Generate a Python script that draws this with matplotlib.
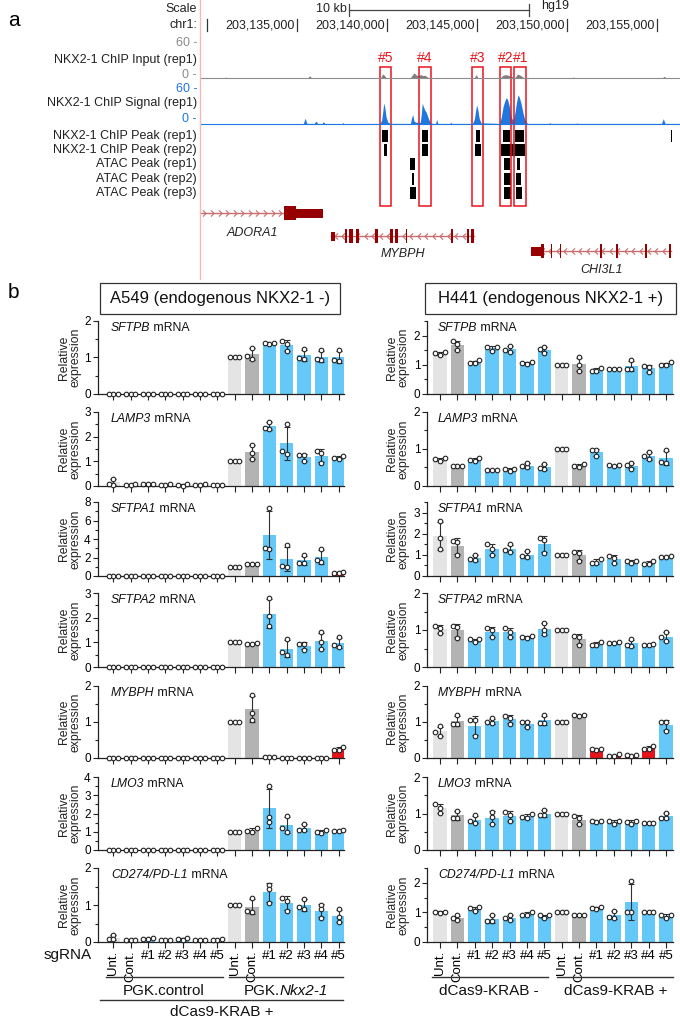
import numpy as np
import matplotlib
matplotlib.use('Agg')
import matplotlib.pyplot as plt
from matplotlib.patches import Rectangle
from matplotlib.path import Path

plt.rcParams['font.family'] = ['Liberation Sans', 'DejaVu Sans']

W, H = 680, 1018

# ---------------- panel a data (positions in kb after 203,000,000) ----------------
KB_LEFT, KB_RIGHT = 129.61, 156.28
CHR_TICKS = [130, 135, 140, 145, 150, 155]
CHR_LABELS = ['', '203,135,000', '203,140,000', '203,145,000', '203,150,000', '203,155,000']
SCALE_BAR_KB = (137.9, 147.9)

inp_kb = [129.6, 131.0, 131.05, 131.1, 135.6, 135.7, 135.8, 139.65, 139.75, 139.85, 139.95,
          141.3, 141.4, 141.5, 141.6, 141.7, 141.9, 142.0, 142.1, 142.3, 144.85, 144.95, 145.05,
          146.3, 146.45, 146.6, 146.8, 147.1, 147.25, 147.4, 147.6, 150.3, 150.35, 150.4,
          155.3, 155.4, 155.5, 156.3]
inp_val = [0.5, 0.5, 2.0, 0.5, 0.5, 4.0, 0.5, 0.5, 7.0, 5.0, 0.5,
           0.5, 5.0, 9.0, 6.0, 4.0, 6.0, 4.0, 5.0, 0.5, 0.5, 6.0, 0.5,
           0.5, 5.0, 6.0, 4.0, 0.5, 7.0, 5.0, 0.5, 0.5, 2.0, 0.5,
           0.5, 3.0, 0.5, 0.5]

sig_kb = [129.6, 135.35, 135.45, 135.55, 135.95, 136.05, 136.15, 136.4, 136.45, 136.55,
          137.5, 137.55, 137.6, 139.6, 139.7, 139.76, 139.82, 139.88, 139.95, 140.05, 140.2,
          141.3, 141.38, 141.43, 141.5, 141.6, 141.85, 141.9, 141.96, 142.02, 142.1, 142.18,
          142.25, 142.32, 142.4, 142.5, 142.7, 142.76, 142.82, 143.5, 143.55, 143.6,
          144.75, 144.85, 144.92, 144.98, 145.05, 145.12, 145.22, 146.25, 146.35, 146.45,
          146.55, 146.62, 146.7, 146.8, 146.9, 147.0, 147.1, 147.2, 147.28, 147.35, 147.45,
          147.55, 147.65, 147.8, 149.0, 149.05, 149.1, 150.5, 150.55, 150.6, 155.25, 155.35,
          155.45, 156.3]
sig_val = [0.8, 0.8, 10, 1, 1, 5, 1, 1, 4, 1,
           0.8, 2.5, 0.8, 1, 6, 20, 36, 28, 12, 3, 1,
           1, 12, 16, 5, 3, 3, 15, 36, 30, 24, 20,
           14, 8, 3, 1, 1, 8, 1, 1, 3, 1,
           1, 8, 22, 33, 24, 10, 2, 1, 12, 30,
           40, 45, 42, 30, 12, 6, 18, 38, 50, 46, 35,
           20, 8, 1, 1, 2.5, 1, 1, 2, 1, 1, 9,
           1, 1]

PEAK_ROWS = ['NKX2-1 ChIP Peak (rep1)', 'NKX2-1 ChIP Peak (rep2)',
             'ATAC Peak (rep1)', 'ATAC Peak (rep2)', 'ATAC Peak (rep3)']
chip_rep1 = [(139.75, 140.04), (141.93, 142.28), (142.81, 142.86), (144.94, 145.18),
             (146.44, 146.83), (147.13, 147.61), (155.31, 155.36), (155.77, 155.82)]
chip_rep2 = [(139.82, 140.02), (141.93, 142.28), (144.89, 145.21), (146.33, 147.66)]
atac_rep1 = [(141.30, 141.54), (146.52, 146.81), (147.20, 147.39)]
atac_rep2 = [(141.40, 141.49), (146.52, 146.89), (147.14, 147.42)]
atac_rep3 = [(141.30, 141.60), (146.52, 146.89), (147.17, 147.51)]

SG_BOXES = ['#5', '#4', '#3', '#2', '#1']
sg_box_kb = [(139.61, 140.21), (141.79, 142.45), (144.75, 145.33), (146.30, 146.91), (147.08, 147.73)]

# genes: line extent, UTR block, exons, strand
ADORA1 = dict(span=(129.61, 134.27), utr=(134.94, 136.45), exons=[(134.27, 134.94)], strand='+')
MYBPH = dict(span=(136.89, 144.82), utr=(136.89, 137.11),
             exons=[(137.67, 137.75), (137.90, 138.10), (138.27, 138.44), (139.36, 139.51),
                    (140.17, 140.33), (140.45, 140.63), (141.05, 141.10), (143.56, 143.65),
                    (144.45, 144.55), (144.65, 144.82)], strand='-')
CHI3L1 = dict(span=(147.98, 155.79), utr=(147.98, 148.56),
              exons=[(148.56, 148.70), (149.11, 149.18), (149.60, 149.67), (151.85, 151.95),
                     (152.75, 152.85), (154.35, 154.45), (155.67, 155.79)], strand='-')

# ---------------- panel b data: three replicates per bar ----------------
SGRNA = ['Unt.', 'Cont.', '#1', '#2', '#3', '#4', '#5']
GENES = ['SFTPB', 'LAMP3', 'SFTPA1', 'SFTPA2', 'MYBPH', 'LMO3', 'CD274/PD-L1']
A549_YMAX = [2, 3, 8, 3, 2, 4, 2]
A549_STEP = [1, 1, 2, 1, 1, 1, 1]
H441_YMAX = [2.5, 2, 3.5, 2, 2, 2, 2.5]
H441_STEP = [1, 1, 1, 1, 1, 1, 1]

Z = (0.0, 0.0, 0.0)
A549_SFTPB = [Z, Z, Z, Z, Z, Z, Z,
              (1.0, 1.0, 1.0), (0.95, 1.27, 1.05), (1.36, 1.40, 1.40), (1.45, 1.17, 1.38),
              (0.98, 1.22, 0.97), (1.20, 0.93, 0.95), (1.20, 0.90, 0.92)]
A549_LAMP3 = [(0.05, 0.28, 0.10), (0.05, 0.09, 0.05), (0.07, 0.10, 0.10), (0.03, 0.10, 0.04),
              (0.02, 0.08, 0.06), (0.06, 0.07, 0.06), (0.04, 0.06, 0.05),
              (1.0, 1.0, 1.0), (1.10, 1.65, 1.35), (2.30, 2.60, 2.35), (1.30, 2.50, 1.40),
              (1.25, 1.00, 1.25), (1.40, 0.95, 1.35), (1.22, 1.10, 1.15)]
A549_SFTPA1 = [Z, Z, Z, Z, Z, Z, Z,
               (1.0, 1.0, 1.0), (1.30, 1.35, 1.30), (2.90, 7.40, 3.00), (1.00, 3.35, 1.10),
               (1.40, 2.25, 1.45), (1.50, 2.90, 1.75), (0.30, 0.45, 0.30)]
A549_SFTPA2 = [Z, Z, Z, Z, Z, Z, Z,
               (1.0, 1.0, 1.0), (0.93, 0.97, 0.95), (1.65, 2.80, 2.05), (0.50, 1.15, 0.60),
               (0.95, 0.70, 0.95), (1.40, 0.75, 1.00), (1.20, 0.80, 0.90)]
A549_MYBPH = [Z, Z, Z, Z, Z, Z, Z,
              (1.0, 1.0, 1.0), (1.75, 1.25, 1.05), (0.02, 0.02, 0.02), (0.01, 0.01, 0.01),
              (0.01, 0.01, 0.01), (0.01, 0.01, 0.01), (0.30, 0.22, 0.22)]
A549_LMO3 = [Z, Z, Z, Z, Z, Z, Z,
             (1.0, 1.0, 1.0), (1.20, 1.05, 1.00), (1.55, 3.50, 1.80), (1.85, 1.00, 1.20),
             (1.45, 1.10, 1.12), (0.95, 1.12, 1.00), (1.05, 1.06, 1.07)]
A549_CD274 = [(0.08, 0.20, 0.07), (0.05, 0.06, 0.05), (0.07, 0.10, 0.09), (0.05, 0.06, 0.05),
              (0.06, 0.12, 0.09), (0.05, 0.06, 0.05), (0.06, 0.07, 0.06),
              (1.0, 1.0, 1.0), (0.82, 1.18, 0.85), (1.55, 1.42, 1.05), (1.20, 0.85, 1.10),
              (1.17, 0.95, 0.88), (1.00, 0.65, 0.88), (0.88, 0.55, 0.68)]

H441_SFTPB = [(1.35, 1.45, 1.40), (1.50, 1.80, 1.70), (1.15, 1.05, 1.05), (1.60, 1.48, 1.62),
              (1.45, 1.65, 1.50), (1.03, 1.10, 1.05), (1.60, 1.55, 1.42),
              (1.0, 1.0, 1.0), (0.80, 1.25, 1.00), (0.90, 0.80, 0.78), (0.86, 0.87, 0.87),
              (0.85, 1.17, 0.85), (0.95, 0.75, 0.92), (0.98, 1.08, 1.00)]
H441_LAMP3 = [(0.75, 0.68, 0.73), (0.53, 0.53, 0.54), (0.68, 0.76, 0.70), (0.42, 0.44, 0.42),
              (0.40, 0.47, 0.45), (0.50, 0.62, 0.53), (0.45, 0.60, 0.48),
              (1.0, 1.0, 1.0), (0.55, 0.60, 0.50), (0.97, 0.80, 0.97), (0.55, 0.57, 0.57),
              (0.62, 0.47, 0.57), (0.72, 0.92, 0.80), (0.65, 0.97, 0.63)]
H441_SFTPA1 = [(1.80, 2.60, 1.30), (1.65, 1.00, 1.60), (0.75, 1.00, 0.80), (1.50, 1.30, 1.00),
               (1.25, 1.50, 1.15), (0.95, 1.18, 0.90), (1.80, 1.10, 1.70),
               (1.0, 1.0, 1.0), (1.15, 0.70, 1.10), (0.60, 0.80, 0.60), (0.95, 0.60, 0.85),
               (0.72, 0.60, 0.72), (0.58, 0.70, 0.58), (0.92, 0.95, 0.92)]
H441_SFTPA2 = [(0.92, 1.12, 1.05), (1.10, 0.78, 1.08), (0.75, 0.68, 0.75), (1.05, 0.80, 1.00),
               (0.95, 1.05, 0.80), (0.85, 0.80, 0.78), (0.88, 1.20, 1.00),
               (1.0, 1.0, 1.0), (0.85, 0.60, 0.80), (0.60, 0.67, 0.60), (0.65, 0.68, 0.66),
               (0.58, 0.75, 0.60), (0.60, 0.61, 0.60), (0.70, 0.95, 0.80)]
H441_MYBPH = [(0.62, 0.88, 0.72), (0.95, 1.20, 0.95), (1.05, 0.60, 1.05), (0.97, 1.10, 1.00),
              (1.10, 1.18, 0.95), (1.00, 0.85, 1.00), (0.97, 1.20, 0.97),
              (1.0, 1.0, 1.0), (1.18, 1.20, 1.20), (0.22, 0.26, 0.24), (0.05, 0.10, 0.06),
              (0.06, 0.07, 0.07), (0.25, 0.33, 0.25), (1.00, 0.75, 1.00)]
H441_LMO3 = [(1.02, 1.25, 1.15), (0.88, 1.08, 0.88), (0.80, 0.95, 0.75), (0.70, 1.05, 0.90),
             (1.05, 0.80, 0.95), (0.90, 1.00, 0.88), (0.95, 1.10, 0.95),
             (1.0, 1.0, 1.0), (0.92, 0.70, 0.88), (0.78, 0.80, 0.80), (0.80, 0.72, 0.80),
             (0.78, 0.72, 0.80), (0.73, 0.75, 0.73), (0.88, 1.02, 0.88)]
H441_CD274 = [(0.98, 1.03, 1.02), (0.90, 0.75, 0.80), (1.18, 1.05, 1.15), (0.70, 0.92, 0.70),
              (0.75, 0.92, 0.80), (0.92, 1.02, 0.92), (0.90, 0.80, 0.90),
              (1.0, 1.0, 1.0), (0.92, 0.92, 0.92), (1.13, 1.18, 1.15), (0.80, 1.05, 0.85),
              (1.00, 2.05, 1.00), (1.00, 1.01, 1.00), (0.90, 0.80, 0.92)]

A549_DATA = [A549_SFTPB, A549_LAMP3, A549_SFTPA1, A549_SFTPA2, A549_MYBPH, A549_LMO3, A549_CD274]
H441_DATA = [H441_SFTPB, H441_LAMP3, H441_SFTPA1, H441_SFTPA2, H441_MYBPH, H441_LMO3, H441_CD274]
# bars shown in red (knock-down hits)
RED_BARS = {('A549', 'SFTPA1'): [13], ('A549', 'MYBPH'): [13], ('H441', 'MYBPH'): [9, 10, 11, 12]}

# ---------------- figure ----------------
fig = plt.figure(figsize=(W / 100, H / 100), dpi=100)


def rect(x0, y0, x1, y1):
    return [x0 / W, 1 - y1 / H, (x1 - x0) / W, (y1 - y0) / H]


# ---- panel a ----
ax = fig.add_axes(rect(200, 0, 680, 280))
ax.set_xlim(KB_LEFT, KB_RIGHT)
ax.set_ylim(280, 0)
ax.axis('off')

RED = '#e8141c'
GRAY_T = '#8a8a8a'
BLUE_T = '#1f78e0'

# chr1 ruler
for kb in CHR_TICKS:
    ax.plot([kb, kb], [19, 31], color='#333333', lw=0.9)
# scale bar
ax.plot(SCALE_BAR_KB, [10, 10], color='#444444', lw=0.9)
for kb in SCALE_BAR_KB:
    ax.plot([kb, kb], [4, 16], color='#444444', lw=0.9)

# input track
in_base, in_scale = 78, 34 / 60
ax.fill_between(inp_kb, in_base, in_base - np.array(inp_val) * in_scale, color='#7f7f7f', lw=0)
ax.plot([KB_LEFT, KB_RIGHT], [in_base, in_base], color='#8c8c8c', lw=0.8)
# chip signal track
sg_base, sg_scale = 124, 35 / 60
ax.fill_between(sig_kb, sg_base, sg_base - np.array(sig_val) * sg_scale, color=BLUE_T, lw=0)
ax.plot([KB_LEFT, KB_RIGHT], [sg_base, sg_base], color=BLUE_T, lw=0.8)

# peak rows
row_y = [136, 150, 164, 179, 193]
for y, peaks in zip(row_y, [chip_rep1, chip_rep2, atac_rep1, atac_rep2, atac_rep3]):
    for s, e in peaks:
        ax.add_patch(Rectangle((s, y - 6), e - s, 12, color='black', lw=0))

# sgRNA boxes
for lab, (s, e) in zip(SG_BOXES, sg_box_kb):
    ax.add_patch(Rectangle((s, 67), e - s, 139, fill=False, ec=RED, lw=1.1))
    ax.text((s + e) / 2, 58, lab, color=RED, fontsize=10, ha='center', va='center')

# genes
GENE_DARK = '#970000'
GENE_LINE = '#c86e6e'
CHEV_R = Path([(-0.5, -1.0), (0.5, 0.0), (-0.5, 1.0)], [Path.MOVETO, Path.LINETO, Path.LINETO])
CHEV_L = Path([(0.5, -1.0), (-0.5, 0.0), (0.5, 1.0)], [Path.MOVETO, Path.LINETO, Path.LINETO])


def draw_gene(g, y, name, lx, ly):
    s, e = g['span']
    ax.plot([s, e], [y, y], color=GENE_LINE, lw=1, zorder=2)
    marker = CHEV_R if g['strand'] == '+' else CHEV_L
    chev = np.arange(s + 0.25, e - 0.1, 0.42)
    ax.plot(chev, [y] * len(chev), ls='none', marker=marker, ms=4.5, mfc='none',
            mec=GENE_LINE, mew=0.8, zorder=2)
    us, ue = g['utr']
    ax.add_patch(Rectangle((us, y - 4.5), ue - us, 9, color=GENE_DARK, lw=0, zorder=3))
    for xs, xe in g['exons']:
        ax.add_patch(Rectangle((xs, y - 7), xe - xs, 14, color=GENE_DARK, lw=0, zorder=3))
    ax.text(lx, ly, name, style='italic', fontsize=9, ha='center', va='center', color='#222222')


draw_gene(ADORA1, 213, 'ADORA1', 132.5, 233)
draw_gene(MYBPH, 236, 'MYBPH', 140.9, 254)
draw_gene(CHI3L1, 251, 'CHI3L1', 151.9, 270)

# ---- panel b ----
BAR_COLORS = ['#e4e4e4', '#b3b3b3'] + ['#64c8f9'] * 5
BAR_COLORS = BAR_COLORS * 2
TOPS = [321, 412, 502, 593, 686, 777, 868]
BOTS = [394, 486, 576, 667, 758, 850, 942]

COLS = [
    ('A549', A549_DATA, A549_YMAX, A549_STEP, 97.7, 344, (-0.9, 13.3)),
    ('H441', H441_DATA, H441_YMAX, H441_STEP, 427.3, 673, (-0.73, 13.4)),
]


def swarm(vals, x0, px_x, px_y, d=4.4, gap=4.7):
    order = np.argsort(vals, kind='stable')
    placed = []
    xs = np.zeros(len(vals))
    for i in order:
        yp = vals[i] * px_y
        for k in (0, -1, 1, -2, 2):
            xp = k * gap
            if all((xp - a) ** 2 + (yp - b) ** 2 >= d * d for a, b in placed):
                break
        placed.append((xp, yp))
        xs[i] = x0 + xp / px_x
    return xs


bar_axes = {}
for cell, data, ymaxs, steps, x0, x1, xlim in COLS:
    px_x = (x1 - x0) / (xlim[1] - xlim[0])
    for r, gene in enumerate(GENES):
        a = fig.add_axes(rect(x0, TOPS[r], x1, BOTS[r]))
        a.patch.set_alpha(0)
        reps = np.array(data[r])
        means = reps.mean(axis=1)
        sds = reps.std(axis=1, ddof=1)
        xpos = np.arange(len(means))
        cols = list(BAR_COLORS)
        for i in RED_BARS.get((cell, gene), []):
            cols[i] = RED
        a.bar(xpos, means, width=0.77, color=cols, lw=0, zorder=2)
        a.errorbar(xpos, means, yerr=sds, fmt='none', ecolor='#303030', elinewidth=0.8,
                   capsize=2.4, capthick=0.8, zorder=3, clip_on=False)
        px_y = (BOTS[r] - TOPS[r]) / ymaxs[r]
        for i in range(len(means)):
            xs = swarm(reps[i], xpos[i], px_x, px_y)
            a.plot(xs, reps[i], ls='none', marker='o', ms=3.3, mfc='white', mec='#222222',
                   mew=0.8, zorder=4, clip_on=False)
        a.set_xlim(*xlim)
        a.set_ylim(0, ymaxs[r])
        a.set_yticks(np.arange(0, ymaxs[r] + 0.01, steps[r]))
        a.set_yticks(np.arange(0, ymaxs[r] + 0.01, steps[r] / 2), minor=True)
        a.set_xticks(xpos)
        a.set_xticklabels([])
        for sp in ('top', 'right'):
            a.spines[sp].set_visible(False)
        for sp in ('left', 'bottom'):
            a.spines[sp].set_linewidth(0.9)
            a.spines[sp].set_color('#222222')
        a.tick_params(axis='y', which='major', length=3.5, width=0.8, pad=1.5, labelsize=8.5,
                      color='#222222')
        a.tick_params(axis='y', which='minor', length=2, width=0.8, color='#222222')
        a.tick_params(axis='x', length=4, width=0.8, color='#222222', pad=2, labelsize=9.5)
        bar_axes[(cell, r)] = a
    # bottom row tick labels
    a = bar_axes[(cell, len(GENES) - 1)]
    a.set_xticklabels(SGRNA * 2)
    for lbl in a.get_xticklabels():
        if lbl.get_text() in ('Unt.', 'Cont.'):
            lbl.set_rotation(90)

# ---- overlay for figure-level text (pixel coordinates) ----
ov = fig.add_axes([0, 0, 1, 1])
ov.set_xlim(0, W)
ov.set_ylim(H, 0)
ov.axis('off')
ov.patch.set_alpha(0)
renderer = fig.canvas.get_renderer()


def runs_text(x, y, runs, size, center=False, color='#111111'):
    ts = []
    cur = x
    for s, st in runs:
        t = ov.text(cur, y, s, fontsize=size, style=st, ha='left', va='baseline', color=color)
        cur += t.get_window_extent(renderer).width
        ts.append(t)
    if center:
        shift = (cur - x) / 2
        for t in ts:
            t.set_x(t.get_position()[0] - shift)


ov.text(8, 20, 'a', fontsize=15, ha='left', va='center')
ov.text(8, 293, 'b', fontsize=15, ha='left', va='center')

LX = 197
ov.text(LX, 9, 'Scale', fontsize=9, ha='right', va='center', color='#222222')
ov.text(LX, 25, 'chr1:', fontsize=9, ha='right', va='center', color='#222222')
ov.text(347, 9, '10 kb', fontsize=9, ha='right', va='center', color='#222222')
ov.text(541, 6, 'hg19', fontsize=9, ha='left', va='center', color='#222222')
for kb, lab in zip(CHR_TICKS, CHR_LABELS):
    if lab:
        px = 200 + (kb - KB_LEFT) / (KB_RIGHT - KB_LEFT) * 480
        ov.text(px - 2, 25, lab, fontsize=9, ha='right', va='center', color='#222222')
ov.text(LX, 43, '60 -', fontsize=9, ha='right', va='center', color=GRAY_T)
ov.text(LX, 60, 'NKX2-1 ChIP Input (rep1)', fontsize=9, ha='right', va='center', color='#222222')
ov.text(LX, 75, '0 -', fontsize=9, ha='right', va='center', color=GRAY_T)
ov.text(LX, 89, '60 -', fontsize=9, ha='right', va='center', color=BLUE_T)
ov.text(LX, 103, 'NKX2-1 ChIP Signal (rep1)', fontsize=9, ha='right', va='center', color='#222222')
ov.text(LX, 119, '0 -', fontsize=9, ha='right', va='center', color=BLUE_T)
for y, lab in zip(row_y, PEAK_ROWS):
    ov.text(LX, y, lab, fontsize=9, ha='right', va='center', color='#222222')
ov.plot([200, 200], [0, 279], color='#f5b8b8', lw=1)

# titles
for (x0, x1, title) in [(100, 340, 'A549 (endogenous NKX2-1 -)'),
                        (425, 676, 'H441 (endogenous NKX2-1 +)')]:
    ov.add_patch(Rectangle((x0, 283), x1 - x0, 31, fill=False, ec='#333333', lw=0.9))
    ov.text((x0 + x1) / 2, 299, title, fontsize=12, ha='center', va='center', color='#111111')

# y labels and gene labels
for (cell, x_lab, x_gene) in [('A549', 70, 111), ('H441', 398, 438)]:
    for r, gene in enumerate(GENES):
        ov.text(x_lab, (TOPS[r] + BOTS[r]) / 2, 'Relative\nexpression', rotation=90,
                fontsize=8.8, ha='center', va='center', linespacing=1.0, color='#222222')
        runs_text(x_gene, TOPS[r] + 10, [(gene, 'italic'), (' mRNA', 'normal')], 8.8)

# sgRNA and group annotations
ov.text(68, 955, 'sgRNA', fontsize=11, ha='center', va='center', color='#111111')
LINE_C = '#333333'
ov.plot([106, 223], [977, 977], color=LINE_C, lw=1)
ov.plot([229, 343], [977, 977], color=LINE_C, lw=1)
ov.plot([100, 343], [1000, 1000], color=LINE_C, lw=1)
ov.plot([432, 548], [977, 977], color=LINE_C, lw=1)
ov.plot([557, 673], [977, 977], color=LINE_C, lw=1)
ov.text(164, 991, 'PGK.control', fontsize=11, ha='center', va='center', color='#111111')
runs_text(286, 995, [('PGK.', 'normal'), ('Nkx2-1', 'italic')], 11, center=True)
ov.text(222, 1012, 'dCas9-KRAB +', fontsize=11, ha='center', va='center', color='#111111')
ov.text(489, 991, 'dCas9-KRAB -', fontsize=11, ha='center', va='center', color='#111111')
ov.text(616, 991, 'dCas9-KRAB +', fontsize=11, ha='center', va='center', color='#111111')

fig.savefig('out.png', dpi=100)
